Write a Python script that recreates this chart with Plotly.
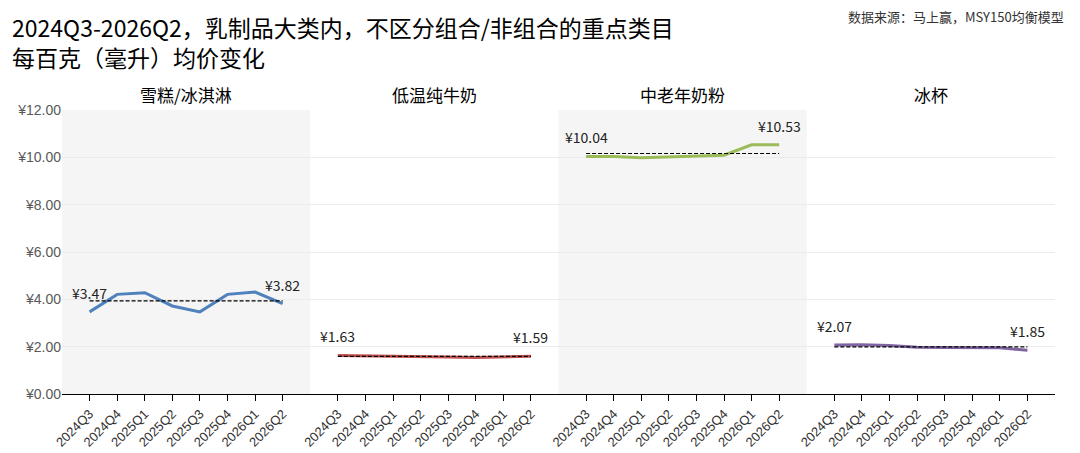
"""乳制品重点类目 每百克（毫升）均价变化 — 4 面板折线图."""
import plotly.graph_objects as go
from plotly.subplots import make_subplots

QUARTERS = ["2024Q3", "2024Q4", "2025Q1", "2025Q2",
            "2025Q3", "2025Q4", "2026Q1", "2026Q2"]

PANELS = ["雪糕/冰淇淋", "低温纯牛奶", "中老年奶粉", "冰杯"]

# 每百克（毫升）均价
ICE_CREAM = [3.47, 4.21, 4.28, 3.72, 3.47, 4.21, 4.31, 3.82]
LOW_TEMP_MILK = [1.63, 1.62, 1.61, 1.59, 1.56, 1.54, 1.56, 1.59]
ELDER_POWDER = [10.04, 10.04, 9.98, 10.02, 10.07, 10.09, 10.53, 10.53]
ICE_CUP = [2.07, 2.08, 2.05, 1.98, 1.97, 1.97, 1.95, 1.85]

SERIES = [ICE_CREAM, LOW_TEMP_MILK, ELDER_POWDER, ICE_CUP]
COLORS = ["#4F81BD", "#C0504D", "#9BBB59", "#8064A2"]
SHADED = [True, False, True, False]

TITLE = "2024Q3-2026Q2，乳制品大类内，不区分组合/非组合的重点类目<br>每百克（毫升）均价变化"
SOURCE = "数据来源：马上赢，MSY150均衡模型"

CJK = "Noto Sans CJK SC"

# 画布像素布局（页面 body 自带 8px 边距，图比窗口小 8px）
OFF = 8
W, H = 1072, 445
M_L, M_R, M_T, M_B = 54, 25, 102, 59
PW, PH = W - M_L - M_R, H - M_T - M_B


def px_x(page_x):
    """页面像素 x -> paper 坐标."""
    return (page_x - OFF - M_L) / PW


def px_y(page_y):
    """页面像素 y -> paper 坐标."""
    return (OFF + H - M_B - page_y) / PH


fig = make_subplots(rows=1, cols=4, shared_yaxes=True, horizontal_spacing=0)

for i, (name, vals, color) in enumerate(zip(PANELS, SERIES, COLORS), start=1):
    sfx = "" if i == 1 else str(i)
    avg = sum(vals) / len(vals)

    if SHADED[i - 1]:
        fig.add_shape(
            type="rect", xref=f"x{sfx} domain", yref=f"y{sfx} domain",
            x0=0, x1=1, y0=0, y1=1,
            fillcolor="#F5F5F5", line=dict(width=0), layer="below",
        )

    fig.add_trace(go.Scatter(
        x=QUARTERS, y=vals, mode="lines", name=name,
        line=dict(color=color, width=3),
        hovertemplate="%{x}<br>¥%{y:.2f}<extra></extra>",
    ), row=1, col=i)

    # 均值虚线
    fig.add_trace(go.Scatter(
        x=[QUARTERS[0], QUARTERS[-1]], y=[avg, avg], mode="lines",
        line=dict(color="black", width=1.2, dash="4px,2px"),
        hoverinfo="skip",
    ), row=1, col=i)

    # 首尾数值标签
    for q, v in ((QUARTERS[0], vals[0]), (QUARTERS[-1], vals[-1])):
        fig.add_annotation(
            x=q, y=v, xref=f"x{sfx}", yref=f"y{sfx}",
            text=f"¥{v:.2f}", showarrow=False, yshift=19,
            font=dict(family=CJK, size=14, color="#222222"),
        )

    # 面板标题
    fig.add_annotation(
        x=0.5, y=1, xref=f"x{sfx} domain", yref="paper",
        text=name, showarrow=False, yanchor="bottom", yshift=1,
        font=dict(family=CJK, size=17, color="black"),
    )

    fig.update_xaxes(
        row=1, col=i,
        type="category", range=[-1, 8], automargin=False,
        showline=True, linecolor="black", linewidth=1.2,
        ticks="outside", ticklen=6, tickcolor="black", tickwidth=1,
        tickangle=-45, showgrid=False,
        tickfont=dict(family="Liberation Sans", size=13, color="#333333"),
    )

fig.update_yaxes(
    range=[0, 12], dtick=2, tickprefix="¥", tickformat=".2f",
    showgrid=True, gridcolor="#EBEBEB", gridwidth=1, zeroline=False,
    automargin=False,
    tickfont=dict(family="Liberation Sans", size=14, color="#595959"),
)

# 标题（两行）
fig.add_annotation(
    x=px_x(10), y=px_y(42), xref="paper", yref="paper",
    text=TITLE, showarrow=False, xanchor="left", yanchor="middle",
    align="left",
    font=dict(family=CJK, size=23, color="black"),
)

# 来源
fig.add_annotation(
    x=px_x(1066), y=px_y(16), xref="paper", yref="paper",
    text=SOURCE, showarrow=False, xanchor="right", yanchor="middle",
    font=dict(family=CJK, size=13, color="#333333"),
)

fig.update_layout(
    width=W, height=H,
    margin=dict(l=M_L, r=M_R, t=M_T, b=M_B, autoexpand=False),
    paper_bgcolor="white", plot_bgcolor="white",
    showlegend=False,
)

fig.write_html("out.html")
